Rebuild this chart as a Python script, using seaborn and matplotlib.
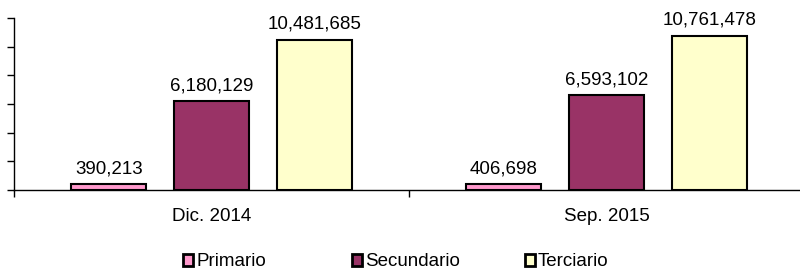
import pandas as pd
import seaborn as sns
import matplotlib.pyplot as plt
from matplotlib.patches import Patch

# values
periods = ['Dic. 2014', 'Sep. 2015']
sectors = ['Primario', 'Secundario', 'Terciario']
primario = [390213, 406698]
secundario = [6180129, 6593102]
terciario = [10481685, 10761478]
colors = ['#FF99CC', '#993366', '#FFFFCC']


def make_plot():
    df = pd.DataFrame({
        'Periodo': periods * 3,
        'Sector': [s for s in sectors for _ in periods],
        'Valor': primario + secundario + terciario,
    })

    sns.set_style('white')
    plt.rcParams['font.family'] = ['Liberation Sans', 'DejaVu Sans']
    plt.rcParams['text.color'] = 'black'
    plt.rcParams['xtick.color'] = 'black'
    plt.rcParams['ytick.color'] = 'black'

    fig = plt.figure(figsize=(8, 2.75), dpi=100)
    ax = fig.add_axes([14 / 800, 85 / 275, 790 / 800, 172 / 275])

    sns.barplot(
        data=df, x='Periodo', y='Valor', hue='Sector',
        order=periods, hue_order=sectors,
        palette=colors, saturation=1, width=0.78, gap=0.27,
        edgecolor='black', linewidth=1.5, ax=ax, legend=False,
    )

    for container in ax.containers:
        ax.bar_label(container, fmt='{:,.0f}', padding=5, fontsize=13.5, color='black')

    ax.set_ylim(0, 12000000)
    ax.set_xlim(-0.5, 1.5)
    ax.set_yticks(range(0, 12000001, 2000000))
    ax.set_yticklabels([])
    ax.tick_params(axis='y', direction='out', length=5, width=1, color='black', left=True)
    ax.set_xticks([-0.5, 0.5, 1.5], minor=True)
    ax.tick_params(axis='x', which='minor', direction='out', length=5, width=1, color='black', bottom=True)
    ax.tick_params(axis='x', which='major', length=0, labelsize=13.5, pad=13, labelcolor='black')
    ax.set_xlabel('')
    ax.set_ylabel('')
    for side in ['top', 'right']:
        ax.spines[side].set_visible(False)
    for side in ['left', 'bottom']:
        ax.spines[side].set_color('black')
        ax.spines[side].set_linewidth(1)

    # one legend entry per box, placed like the original
    legend_x = [183, 352, 525]
    for color, name, lx in zip(colors, sectors, legend_x):
        handle = Patch(facecolor=color, edgecolor='black', linewidth=2)
        fig.legend([handle], [name], loc='center left',
                   bbox_to_anchor=(lx / 800, 13 / 275),
                   frameon=False, fontsize=13.5, handlelength=0.55,
                   handleheight=0.55, handletextpad=0.15,
                   borderpad=0, borderaxespad=0, labelcolor='black')

    fig.savefig('out.png', dpi=100)


if __name__ == '__main__':
    make_plot()
